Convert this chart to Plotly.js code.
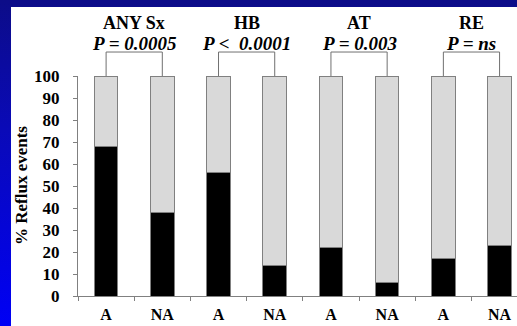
<!DOCTYPE html>
<html><head><meta charset="utf-8">
<script src="https://cdn.plot.ly/plotly-3.0.1.min.js"></script>
<style>
html,body{margin:0;padding:0;width:517px;height:326px;overflow:hidden;
 background:linear-gradient(to bottom,#0c0c88 0%,#0a0ab8 40%,#0000f5 100%);}
#chart{position:absolute;left:11px;top:7px;width:506px;height:319px;}
</style></head><body>
<div id="chart"></div>
<script>
const groups = ["ANY Sx", "HB", "AT", "RE"];
const pLabels = ["P = 0.0005", "P &lt;  0.0001", "P = 0.003", "P = ns"];
const categories = ["ANY Sx A", "ANY Sx NA", "HB A", "HB NA", "AT A", "AT NA", "RE A", "RE NA"];
const tickLabels = ["A", "NA", "A", "NA", "A", "NA", "A", "NA"];
const refluxSymptom = [68, 38, 56, 14, 22, 6, 17, 23];
const refluxOther = [32, 62, 44, 86, 78, 94, 83, 77];
const yTitle = "% Reflux events";

const font = "Liberation Serif, DejaVu Serif, serif";
const lineGray = "#808080";

const traces = [
  {type: "bar", x: categories, y: refluxSymptom, width: 0.42,
   marker: {color: "#000000", line: {color: lineGray, width: 1}}, hoverinfo: "none"},
  {type: "bar", x: categories, y: refluxOther, width: 0.42,
   marker: {color: "#d9d9d9", line: {color: lineGray, width: 1}}, hoverinfo: "none"}
];

const annotations = [];
const shapes = [];
groups.forEach((g, i) => {
  const c = 2 * i + 0.5;
  annotations.push({xref: "x", yref: "paper", x: c, y: 1.241, text: "<b>" + g + "</b>",
    showarrow: false, xanchor: "center", yanchor: "middle", font: {family: font, size: 18, color: "#000"}});
  annotations.push({xref: "x", yref: "paper", x: c, y: 1.15, text: "<b><i>" + pLabels[i] + "</i></b>",
    showarrow: false, xanchor: "center", yanchor: "middle", font: {family: font, size: 19, color: "#000"}});
  const l = 2 * i, r = 2 * i + 1;
  const ln = {color: "#707070", width: 1};
  shapes.push({type: "line", xref: "x", yref: "paper", x0: l, x1: l, y0: 1.0, y1: 1.109, line: ln});
  shapes.push({type: "line", xref: "x", yref: "paper", x0: r, x1: r, y0: 1.0, y1: 1.109, line: ln});
  shapes.push({type: "line", xref: "x", yref: "paper", x0: l, x1: r, y0: 1.109, y1: 1.109, line: ln});
});
annotations.push({xref: "paper", yref: "paper", x: 0, y: 0.5, xshift: -57, text: "<b>" + yTitle + "</b>",
  textangle: -90, showarrow: false, xanchor: "center", yanchor: "middle",
  font: {family: font, size: 17, color: "#000"}});

const layout = {
  width: 506, height: 319,
  margin: {l: 67, r: 0, t: 69, b: 30, pad: 0},
  paper_bgcolor: "#ffffff", plot_bgcolor: "#ffffff",
  barmode: "stack", showlegend: false,
  font: {family: font, color: "#000"},
  xaxis: {type: "category", range: [-0.5, 7.31], tickmode: "array", tickvals: categories, ticktext: tickLabels,
    tickson: "boundaries", ticks: "outside", ticklen: 4, tickcolor: lineGray,
    showline: true, linecolor: lineGray, linewidth: 1, showgrid: false, zeroline: false,
    tickfont: {family: font, size: 16, color: "#000", weight: "bold"}, ticklabelstandoff: 4},
  yaxis: {range: [0, 100], tickmode: "array", tickvals: [0,10,20,30,40,50,60,70,80,90,100],
    ticks: "outside", ticklen: 4, tickcolor: lineGray, showline: true, linecolor: lineGray, linewidth: 1,
    showgrid: false, zeroline: false, ticklabelstandoff: 10,
    tickfont: {family: font, size: 17, color: "#000", weight: "bold"}},
  annotations: annotations, shapes: shapes
};
Plotly.newPlot("chart", traces, layout, {staticPlot: true, displayModeBar: false});
</script></body></html>
